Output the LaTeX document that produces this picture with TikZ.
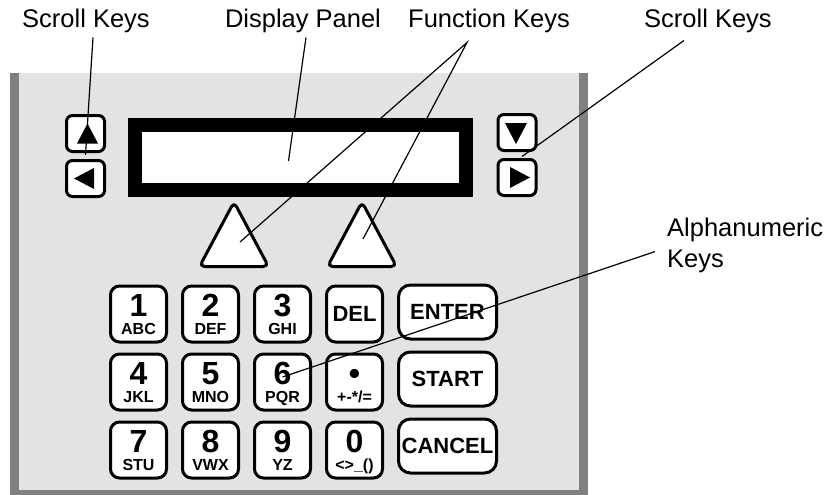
\documentclass[tikz,border=0pt]{standalone}
\usepackage{fontspec}
\setmainfont{Liberation Sans}
\usetikzlibrary{
		calc,
		positioning
	}
\definecolor{panelface}{HTML}{E3E3E3}
\definecolor{panelshade}{HTML}{808080}
\newcommand{\keydigit}[1]{{\fontsize{32}{32}\selectfont #1}}

\begin{document}
\begin{tikzpicture}[x=1pt, y=-1pt,
	callout/.style={font=\fontsize{25.5}{31}\selectfont, inner sep=2pt},
	leader/.style={line width=1.2pt, black},
	keycap/.style={draw, line width=3pt, fill=white},
	numkey/.style={keycap, rounded corners=9pt, minimum size=56pt, inner sep=1pt, align=center, text height=41pt, text depth=0pt, font=\fontsize{16}{18}\selectfont\bfseries},
	wordkey/.style={keycap, rounded corners=9pt, minimum size=56pt, font=\fontsize{22}{26}\selectfont\bfseries},
	bigkey/.style={wordkey, rounded corners=12pt, minimum width=98pt, minimum height=54pt, inner sep=2pt},
	scrollkey/.style={keycap, rounded corners=6pt, minimum width=38pt, minimum height=36pt},
	fnkey/.style={keycap, rounded corners=5pt, line join=round}]
	\useasboundingbox (0,0) rectangle (833,495);
	% housing, dark edge on the left, right and bottom
	\fill[panelshade] (10,73) rectangle (588,495);
	\fill[panelface] (19,73) rectangle (579,490);

	\node[draw, line width=14pt, fill=white, minimum width=331pt, minimum height=65pt, inner sep=0pt] (display) at (300.5,157) {};

	% scroll keys either side of the display
	\node[scrollkey] (upkey) at (85.5,133.5) {};
	\node[scrollkey, below=6pt of upkey] (leftkey) {};
	\node[scrollkey] (downkey) at (517,132.5) {};
	\node[scrollkey, below=6pt of downkey] (rightkey) {};
	\fill ($(upkey)+(2,-10)$) -- ($(upkey)+(12.5,10)$) -- ($(upkey)+(-8.5,10)$) -- cycle;
	\fill ($(leftkey)+(-11.5,0)$) -- ($(leftkey)+(8.5,-10.5)$) -- ($(leftkey)+(8.5,10.5)$) -- cycle;
	\fill ($(downkey)+(-1,11.5)$) -- ($(downkey)+(-12,-9.5)$) -- ($(downkey)+(10,-9.5)$) -- cycle;
	\fill ($(rightkey)+(13,0)$) -- ($(rightkey)+(-7,-10.5)$) -- ($(rightkey)+(-7,10.5)$) -- cycle;

	% function keys
	\draw[fnkey] (199.5,266.5) -- (234,202) -- (268.5,266.5) -- cycle;
	\draw[fnkey] (327.5,266.5) -- (362,202) -- (396.5,266.5) -- cycle;
	\coordinate (fkeyL) at (240,242);
	\coordinate (fkeyR) at (363,239);

	% keypad
	\node[numkey] (k1) at (138.5,314) {\keydigit{1}\\ABC};
	\node[numkey, right=13pt of k1] (k2) {\keydigit{2}\\DEF};
	\node[numkey, right=13pt of k2] (k3) {\keydigit{3}\\GHI};
	\node[wordkey, right=13pt of k3] (kdel) {DEL};
	\node[numkey, below=9pt of k1] (k4) {\keydigit{4}\\JKL};
	\node[numkey, right=13pt of k4] (k5) {\keydigit{5}\\MNO};
	\node[numkey, right=13pt of k5] (k6) {\keydigit{6}\\PQR};
	\node[numkey, right=13pt of k6] (kdot) {\keydigit{•}\\+-*/=};
	\node[numkey, below=9pt of k4] (k7) {\keydigit{7}\\STU};
	\node[numkey, right=13pt of k7] (k8) {\keydigit{8}\\VWX};
	\node[numkey, right=13pt of k8] (k9) {\keydigit{9}\\YZ};
	\node[numkey, right=13pt of k9] (k0) {\keydigit{0}\\<>\_()};
	\node[bigkey] (enter) at (447.5,312) {ENTER};
	\node[bigkey, below=10pt of enter] (start) {START};
	\node[bigkey, below=10pt of start] (cancel) {CANCEL};

	% callouts
	\node[callout, anchor=base] (scrollL) at (86,28) {Scroll Keys};
	\node[callout, anchor=base] (dispL) at (303,28) {Display Panel};
	\node[callout, anchor=base] (funcL) at (489,28) {Function Keys};
	\node[callout, anchor=base] (scrollR) at (708,28) {Scroll Keys};
	\node[callout, anchor=north west, align=left, inner sep=0pt] (alphaL) at (667,218) {Alphanumeric\\Keys};
	\coordinate (fntip) at ([xshift=-22pt,yshift=-7pt]funcL.south);

	\draw[leader] ([xshift=7pt,yshift=-2pt]scrollL.south) -- ([yshift=-2pt]upkey.south);
	\draw[leader] ([xshift=3pt,yshift=-2pt]dispL.south) -- ([xshift=-12pt,yshift=-4pt]display.center);
	\draw[leader] (fkeyL) -- (fntip) -- (fkeyR);
	\draw[leader] ([xshift=-24pt,yshift=-5pt]scrollR.south) -- ([xshift=5pt,yshift=-4.5pt]downkey.south);
	\draw[leader] ([xshift=-12pt,yshift=-6pt]alphaL.west) -- ([yshift=5pt]k6.center);
\end{tikzpicture}
\end{document}
